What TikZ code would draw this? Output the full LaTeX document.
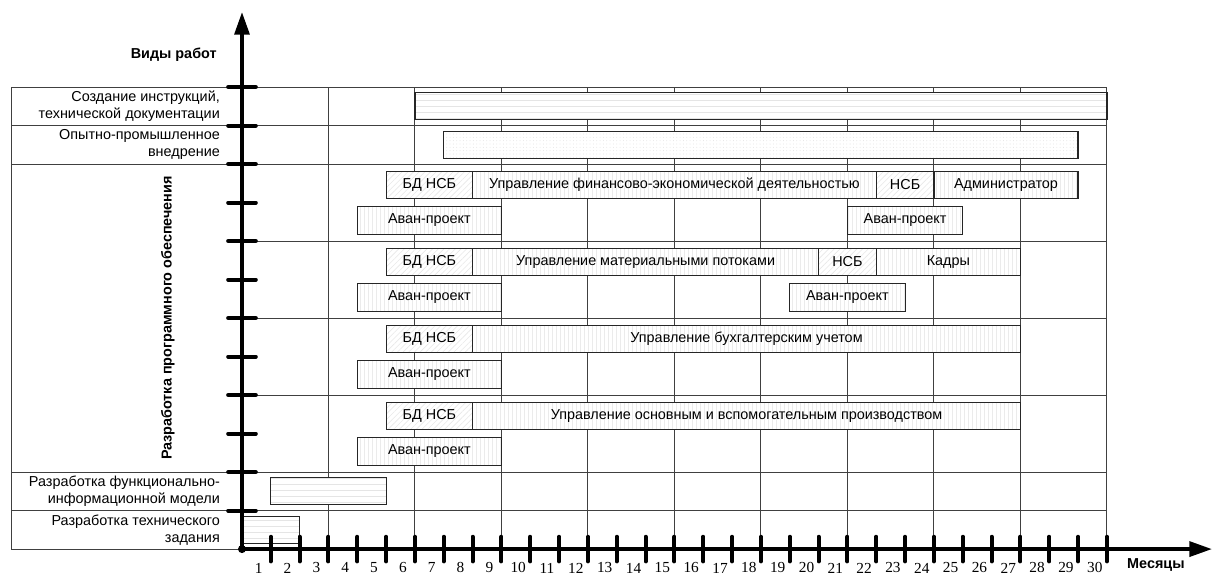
\documentclass[tikz,border=0pt]{standalone}
\usepackage{fontspec}
\setmainfont{Liberation Sans}
\newfontfamily\numfont{Liberation Serif}
\usetikzlibrary{arrows.meta,patterns.meta}
\begin{document}
\begin{tikzpicture}
[x=21.62pt,y=28.875pt,font=\fontsize{10.8}{12.7}\selectfont,
gridline/.style={draw=black!75,line width=0.75pt},
axis/.style={line width=3pt,-{Triangle[length=17pt,width=11pt]}},
axtick/.style={line width=3pt,line cap=round},
bar/.style={draw=black!85,line width=0.9pt,preaction={fill=white}},
hbar/.style={bar,pattern={Lines[angle=0,distance=4.5pt,line width=0.6pt]},pattern color=black!10},
dbar/.style={bar,pattern={Dots[distance=2.5pt,radius=0.3pt]},pattern color=black!16},
vbar/.style={bar,pattern={Lines[angle=90,distance=3pt,line width=0.45pt]},pattern color=black!8},
sbar/.style={bar,pattern={Lines[angle=45,distance=3pt,line width=0.45pt]},pattern color=black!9},
rowlabel/.style={anchor=east,align=right,inner sep=0pt},
bold/.style={font=\fontsize{10.8}{12.7}\selectfont\bfseries},
monthlabel/.style={font=\numfont\fontsize{11.5}{12}\selectfont,inner sep=0pt}]
\useasboundingbox (-8.394,-0.649) rectangle (33.68,14.26);
% grid
\draw[gridline] (-8,0) -- (0,0);
\foreach \r in {1,2,10,11,12} \draw[gridline] (-8,\r) -- (30,\r);
\foreach \r in {4,6,8} \draw[gridline] (0,\r) -- (30,\r);
\draw[gridline] (-8,0) -- (-8,12);
\foreach \m in {3,6,...,30} \draw[gridline] (\m,0) -- (\m,12);
% bars
\draw[hbar] (6,11.15) rectangle (30,11.85);
\draw[dbar] (7,10.15) rectangle (29,10.85);
\draw[hbar] (1,1.15) rectangle (5,1.85);
\draw[hbar] (0,0.15) rectangle (2,0.85);
\draw[sbar] (5,9.1) rectangle (8,9.81);
\draw[vbar] (8,9.1) rectangle (22,9.81);
\draw[sbar] (22,9.1) rectangle (24,9.81);
\draw[vbar] (24,9.1) rectangle (29,9.81);
\draw[vbar] (4,8.18) rectangle (9,8.89);
\draw[vbar] (21,8.18) rectangle (25,8.89);
\draw[sbar] (5,7.1) rectangle (8,7.81);
\draw[vbar] (8,7.1) rectangle (20,7.81);
\draw[sbar] (20,7.1) rectangle (22,7.81);
\draw[vbar] (22,7.1) rectangle (27,7.81);
\draw[vbar] (4,6.18) rectangle (9,6.89);
\draw[vbar] (19,6.18) rectangle (23,6.89);
\draw[sbar] (5,5.1) rectangle (8,5.81);
\draw[vbar] (8,5.1) rectangle (27,5.81);
\draw[vbar] (4,4.18) rectangle (9,4.89);
\draw[sbar] (5,3.1) rectangle (8,3.81);
\draw[vbar] (8,3.1) rectangle (27,3.81);
\draw[vbar] (4,2.18) rectangle (9,2.89);
\node (bd1) at (6.5,9.455) {БД НСБ};
\node (fin) at (15,9.455) {Управление финансово-экономической деятельностью};
\node (nsb1) at (23,9.455) {НСБ};
\node (admin) at (26.5,9.455) {Администратор};
\node (avan1a) at (6.5,8.535) {Аван-проект};
\node (avan1b) at (23,8.535) {Аван-проект};
\node (bd2) at (6.5,7.455) {БД НСБ};
\node (mat) at (14,7.455) {Управление материальными потоками};
\node (nsb2) at (21,7.455) {НСБ};
\node (kadry) at (24.5,7.455) {Кадры};
\node (avan2a) at (6.5,6.535) {Аван-проект};
\node (avan2b) at (21,6.535) {Аван-проект};
\node (bd3) at (6.5,5.455) {БД НСБ};
\node (buh) at (17.5,5.455) {Управление бухгалтерским учетом};
\node (avan3) at (6.5,4.535) {Аван-проект};
\node (bd4) at (6.5,3.455) {БД НСБ};
\node (prod) at (17.5,3.455) {Управление основным и вспомогательным производством};
\node (avan4) at (6.5,2.535) {Аван-проект};
% axes
\draw[axis] (0,0) -- (0,13.95);
\draw[axis] (0,0) -- (33.65,0);
\fill (0,0) circle (3pt);
\foreach \r in {1,...,12} \draw[axtick] (-0.48,\r) -- (0.48,\r);
\foreach \m in {1,...,30} {
  \draw[axtick] (\m,-0.32) -- (\m,0.32);
  \node[monthlabel] (m\m) at (\m-0.42,-0.49) {\m};
}
% labels
\node[rowlabel,bold] (works) at (-0.87,12.85) {Виды работ};
\node[bold] (months) at (31.7,-0.42) {Месяцы};
\node[rowlabel] (instr) at (-0.76,11.5) {Создание инструкций,\\технической документации};
\node[rowlabel] (pilot) at (-0.76,10.5) {Опытно-промышленное\\внедрение};
\node[bold,rotate=90] (soft) at (-2.57,6) {Разработка программного обеспечения};
\node[rowlabel] (model) at (-0.76,1.5) {Разработка функционально-\\информационной модели};
\node[rowlabel] (spec) at (-0.76,0.5) {Разработка технического\\задания};
\end{tikzpicture}
\end{document}
